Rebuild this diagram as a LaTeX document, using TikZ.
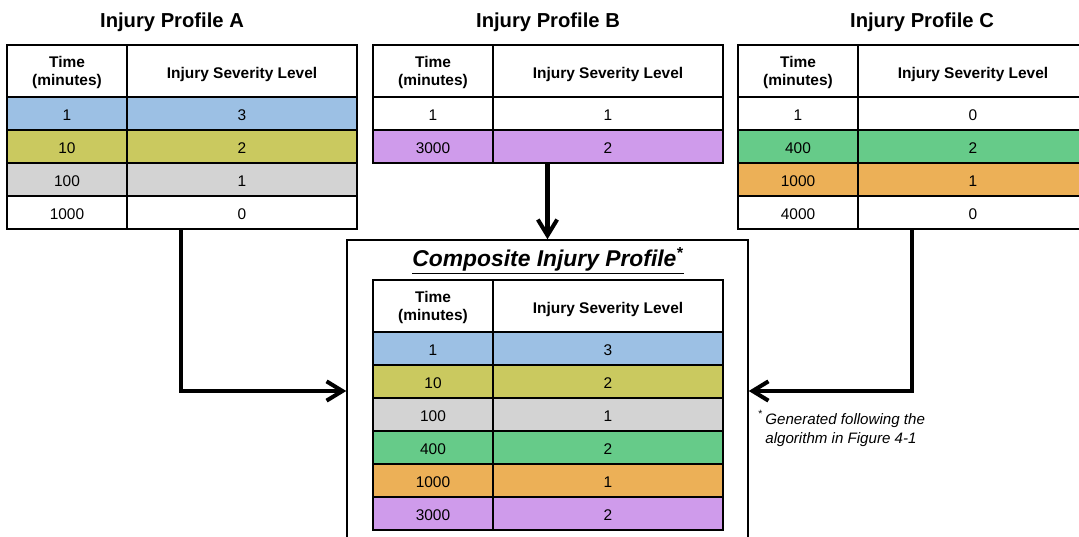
\documentclass[tikz,border=0pt]{standalone}
\usepackage{fontspec}
\setmainfont{Liberation Sans}
\usepackage{tikz}
\usetikzlibrary{shapes, arrows.meta, positioning}
\definecolor{rowblue}{RGB}{156,192,228}
\definecolor{rowolive}{RGB}{202,201,95}
\definecolor{rowgray}{RGB}{211,211,211}
\definecolor{rowgreen}{RGB}{102,203,137}
\definecolor{roworange}{RGB}{236,176,87}
\definecolor{rowpurple}{RGB}{207,155,235}
\tikzstyle{title} = [font=\fontsize{11.5}{13}\selectfont\bfseries]
\tikzstyle{tcell} = [draw, line width=1.1pt, minimum width=2.4cm, minimum height=0.66cm, inner sep=0pt, text height=8.5pt, text depth=0pt, font=\fontsize{8.8}{10}\selectfont]
\tikzstyle{lcell} = [tcell, minimum width=4.6cm]
\tikzstyle{thead} = [minimum height=1.04cm, align=center, text height=, text depth=, font=\fontsize{8.8}{10.2}\selectfont\bfseries]
\tikzstyle{cbox} = [draw, line width=0.9pt, minimum width=8.02cm, minimum height=6.04cm, inner sep=0pt]
\tikzstyle{note} = [inner sep=0pt, align=left, font=\fontsize{8.6}{10.8}\selectfont\itshape]
\tikzstyle{arrow} = [draw, line width=2.3pt, -{Straight Barb[length=9pt,width=11pt]}]

\begin{document}
\begin{tikzpicture}[x=0.02cm, y=-0.02cm]
				\useasboundingbox (0,0) rectangle (1079,537);
				\clip (0,0) rectangle (1079,537);

				% profile A
				\node [title] (tA) at (172,22) {Injury Profile A};
				\node [tcell, thead] (hAt) at (67,71) {\rule{0pt}{8.6pt}Time\\(minutes)};
				\node [lcell, thead] (hAl) at (242,71) {\rule{0pt}{10.5pt}Injury Severity Level};
				\node [tcell, fill=rowblue] (a1t) at (67,113.5) {1};
				\node [lcell, fill=rowblue] (a1l) at (242,113.5) {3};
				\node [tcell, fill=rowolive] (a2t) at (67,146.5) {10};
				\node [lcell, fill=rowolive] (a2l) at (242,146.5) {2};
				\node [tcell, fill=rowgray] (a3t) at (67,179.5) {100};
				\node [lcell, fill=rowgray] (a3l) at (242,179.5) {1};
				\node [tcell] (a4t) at (67,212.5) {1000};
				\node [lcell] (a4l) at (242,212.5) {0};

				% profile B
				\node [title] (tB) at (548,22) {Injury Profile B};
				\node [tcell, thead] (hBt) at (433,71) {\rule{0pt}{8.6pt}Time\\(minutes)};
				\node [lcell, thead] (hBl) at (608,71) {\rule{0pt}{10.5pt}Injury Severity Level};
				\node [tcell] (b1t) at (433,113.5) {1};
				\node [lcell] (b1l) at (608,113.5) {1};
				\node [tcell, fill=rowpurple] (b2t) at (433,146.5) {3000};
				\node [lcell, fill=rowpurple] (b2l) at (608,146.5) {2};

				% profile C
				\node [title] (tC) at (922,22) {Injury Profile C};
				\node [tcell, thead] (hCt) at (798,71) {\rule{0pt}{8.6pt}Time\\(minutes)};
				\node [lcell, thead] (hCl) at (973,71) {\rule{0pt}{10.5pt}Injury Severity Level};
				\node [tcell] (c1t) at (798,113.5) {1};
				\node [lcell] (c1l) at (973,113.5) {0};
				\node [tcell, fill=rowgreen] (c2t) at (798,146.5) {400};
				\node [lcell, fill=rowgreen] (c2l) at (973,146.5) {2};
				\node [tcell, fill=roworange] (c3t) at (798,179.5) {1000};
				\node [lcell, fill=roworange] (c3l) at (973,179.5) {1};
				\node [tcell] (c4t) at (798,212.5) {4000};
				\node [lcell] (c4l) at (973,212.5) {0};

				% composite
				\node [cbox] (comp) at (547.5,391) {};
				\node [title, font=\fontsize{13}{15}\selectfont\bfseries\itshape] (tComp) at (548,261) {\underline{Composite Injury Profile\textsuperscript{*}}};
				\node [tcell, thead] (hPt) at (433,306) {\rule{0pt}{8.6pt}Time\\(minutes)};
				\node [lcell, thead] (hPl) at (608,306) {\rule{0pt}{10.5pt}Injury Severity Level};
				\node [tcell, fill=rowblue] (p1t) at (433,348.5) {1};
				\node [lcell, fill=rowblue] (p1l) at (608,348.5) {3};
				\node [tcell, fill=rowolive] (p2t) at (433,381.5) {10};
				\node [lcell, fill=rowolive] (p2l) at (608,381.5) {2};
				\node [tcell, fill=rowgray] (p3t) at (433,414.5) {100};
				\node [lcell, fill=rowgray] (p3l) at (608,414.5) {1};
				\node [tcell, fill=rowgreen] (p4t) at (433,447.5) {400};
				\node [lcell, fill=rowgreen] (p4l) at (608,447.5) {2};
				\node [tcell, fill=roworange] (p5t) at (433,480.5) {1000};
				\node [lcell, fill=roworange] (p5l) at (608,480.5) {1};
				\node [tcell, fill=rowpurple] (p6t) at (433,513.5) {3000};
				\node [lcell, fill=rowpurple] (p6l) at (608,513.5) {2};

				\node [note, anchor=north west] (note) at (765,410) {\llap{\textsuperscript{*}\,}Generated following the\\algorithm in Figure 4-1};

				% arrows
				\coordinate (aout) at (181,229);
				\coordinate (cout) at (912,229);
				\path [arrow] (aout) |- (comp.west);
				\path [arrow] (b2l.south -| comp.north) -- (comp.north);
				\path [arrow] (cout) |- (comp.east);
			\end{tikzpicture}
\end{document}
